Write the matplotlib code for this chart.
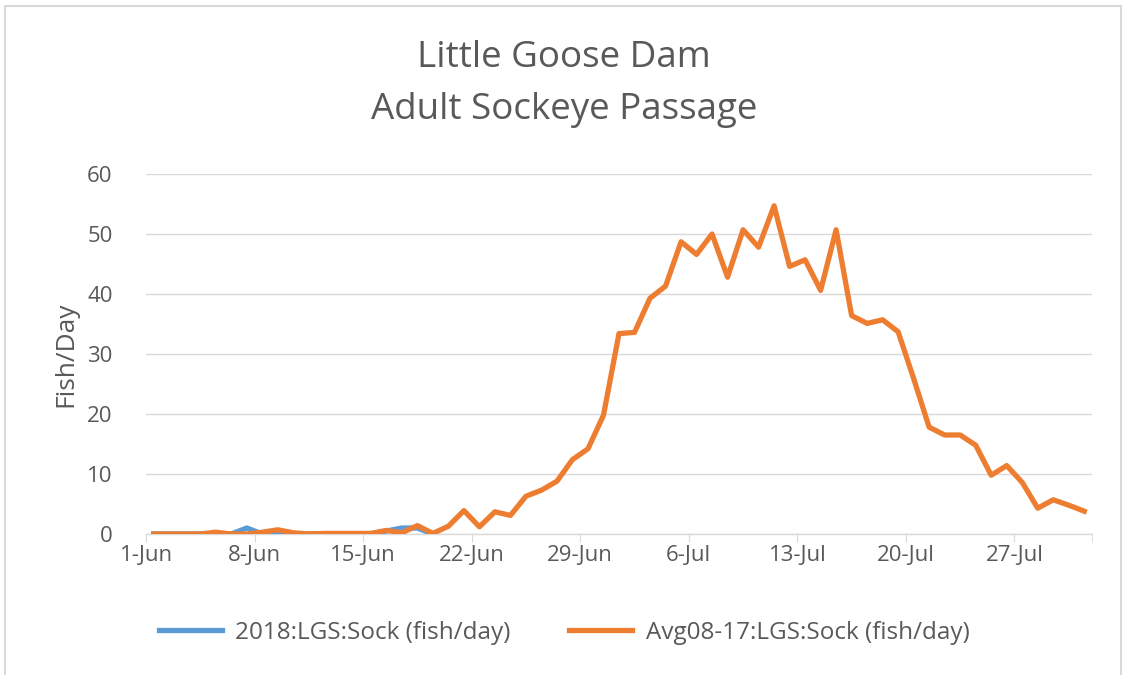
import matplotlib
matplotlib.use("Agg")
import matplotlib.pyplot as plt
import numpy as np
from matplotlib.patches import Rectangle

plt.rcParams['font.family'] = ['Open Sans', 'DejaVu Sans']

# Days Jun 1 .. Jul 31 (61 days)
day_labels = ["1-Jun", "8-Jun", "15-Jun", "22-Jun", "29-Jun", "6-Jul", "13-Jul", "20-Jul", "27-Jul"]

avg_08_17 = [0, 0, 0, 0, 0.3, 0, 0, 0.3, 0.7, 0.2,
             0, 0.1, 0.1, 0.1, 0.1, 0.6, 0.2, 1.4, 0.1, 1.3,
             3.9, 1.2, 3.7, 3.1, 6.3, 7.3, 8.8, 12.4, 14.2, 19.8,
             33.4, 33.6, 39.3, 41.3, 48.7, 46.6, 50.0, 42.8, 50.7, 47.8,
             54.7, 44.6, 45.7, 40.6, 50.7, 36.4, 35.1, 35.7, 33.7, 25.9,
             17.8, 16.5, 16.5, 14.8, 9.8, 11.4, 8.6, 4.3, 5.7, 4.8,
             3.8]

y2018 = [0, 0, 0, 0, 0, 0, 1.0, 0, 0, 0,
         0, 0, 0, 0, 0, 0.5, 1.0, 1.0, 0]

series_names = ["2018:LGS:Sock (fish/day)", "Avg08-17:LGS:Sock (fish/day)"]

fig = plt.figure(figsize=(11.28, 6.75), dpi=100)
ax = fig.add_axes([146/1128, 1 - 534/675, (1092-146)/1128, (534-174)/675])

x_avg = np.arange(len(avg_08_17))
x_2018 = np.arange(len(y2018))

blue = "#5B9BD5"
orange = "#ED7D31"
ax.plot(x_2018, y2018, color=blue, lw=3.8, solid_joinstyle='round', label=series_names[0], zorder=3)
ax.plot(x_avg, avg_08_17, color=orange, lw=3.8, solid_joinstyle='round', label=series_names[1], zorder=4)

ax.set_xlim(-0.5, len(avg_08_17) - 0.5)
ax.set_ylim(0, 60)
ax.set_yticks(np.arange(0, 61, 10))
ax.grid(axis='y', color='#d9d9d9', lw=1.0)
ax.set_axisbelow(True)

tick_pos = np.arange(len(day_labels)) * 7 - 0.5
ax.set_xticks(tick_pos)
ax.set_xticklabels(day_labels)
ax.set_xticks([len(avg_08_17) - 0.5], minor=True)

for s in ['top', 'right', 'left']:
    ax.spines[s].set_visible(False)
ax.spines['bottom'].set_color('#d9d9d9')
ax.spines['bottom'].set_linewidth(1.0)

ax.tick_params(axis='x', which='both', direction='out', length=6, color='#d9d9d9',
               labelsize=16, labelcolor='#595959', pad=2)
ax.tick_params(axis='y', length=0, labelsize=16, labelcolor='#595959', pad=24)

ax.set_ylabel("Fish/Day", fontsize=19, color='#595959', labelpad=6)

fig.text(0.5, 1 - 58/675, "Little Goose Dam", ha='center', va='center', fontsize=26.5, color='#595959')
fig.text(0.5, 1 - 110/675, "Adult Sockeye Passage", ha='center', va='center', fontsize=26.5, color='#595959')

leg = fig.legend(loc='center', bbox_to_anchor=(0.5, 1 - 633/675), ncol=2, frameon=False,
                 fontsize=17.5, handlelength=2.6, columnspacing=2.4, handletextpad=0.55)
for t in leg.get_texts():
    t.set_color('#595959')

fig.patches.append(Rectangle((5/1128, -0.01), (1121-5)/1128, 1 - 6/675 + 0.01,
                             transform=fig.transFigure, fill=False, edgecolor='#d9d9d9', lw=1.5))

fig.savefig("out.png", dpi=100)
